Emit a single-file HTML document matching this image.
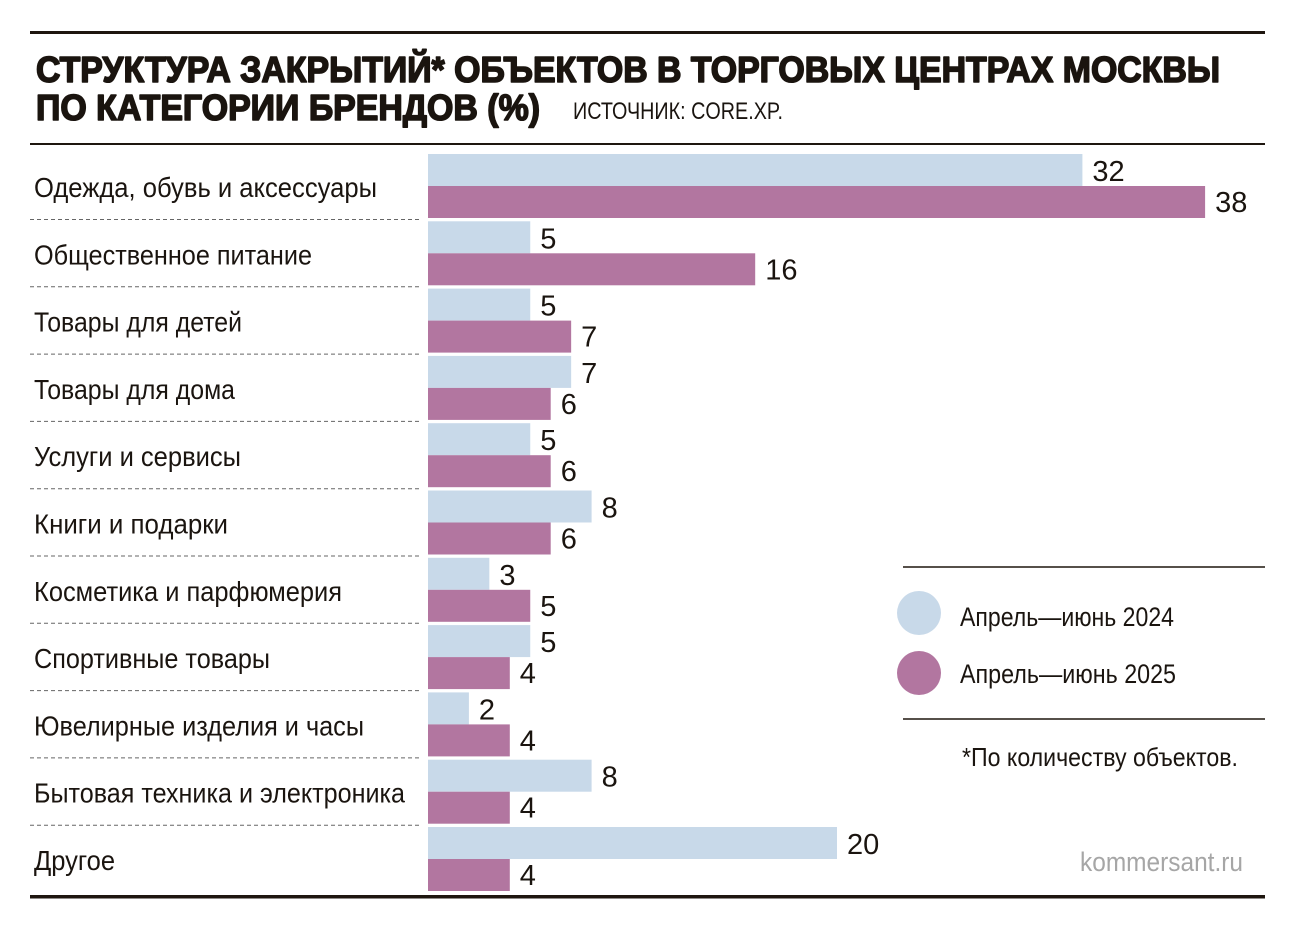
<!DOCTYPE html>
<html><head><meta charset="utf-8"><style>
html,body{margin:0;padding:0;background:#fff;}
svg{display:block;}
text{font-family:"Liberation Sans Narrow","Liberation Sans",sans-serif;fill:#1a140f;}
.t{stroke:#1a140f;stroke-width:1.6px;stroke-linejoin:round;}
</style></head><body>
<svg width="1296" height="930" viewBox="0 0 1296 930" xmlns="http://www.w3.org/2000/svg">
<rect x="30" y="31" width="1235" height="3" fill="#1e160f"/>
<text class="t" x="36" y="82" font-size="36" font-weight="bold" textLength="1184" lengthAdjust="spacingAndGlyphs" style="font-family:'Liberation Sans',sans-serif">СТРУКТУРА ЗАКРЫТИЙ* ОБЪЕКТОВ В ТОРГОВЫХ ЦЕНТРАХ МОСКВЫ</text>
<text class="t" x="36" y="120" font-size="36" font-weight="bold" textLength="504" lengthAdjust="spacingAndGlyphs" style="font-family:'Liberation Sans',sans-serif">ПО КАТЕГОРИИ БРЕНДОВ (%)</text>
<text x="573" y="119" font-size="24" textLength="210" lengthAdjust="spacingAndGlyphs">ИСТОЧНИК: CORE.XP.</text>
<rect x="30" y="143" width="1235" height="2" fill="#1e160f"/>
<rect x="30" y="895" width="1235" height="3.5" fill="#1e160f"/>
<g id="rows"></g>
<line x1="903" y1="567" x2="1265" y2="567" stroke="#1e160f" stroke-width="1.5"/>
<line x1="903" y1="719" x2="1265" y2="719" stroke="#1e160f" stroke-width="1.5"/>
<circle cx="919" cy="613" r="22" fill="#c8d9e9"/>
<circle cx="919" cy="673" r="22" fill="#b276a0"/>
<text x="960" y="626" font-size="27" textLength="214" lengthAdjust="spacingAndGlyphs">Апрель—июнь 2024</text>
<text x="960" y="683" font-size="27" textLength="216" lengthAdjust="spacingAndGlyphs">Апрель—июнь 2025</text>
<text x="962" y="766" font-size="26" textLength="276" lengthAdjust="spacingAndGlyphs">*По количеству объектов.</text>
<text x="1080" y="871" font-size="27" textLength="163" lengthAdjust="spacingAndGlyphs" style="fill:#a6a6a6">kommersant.ru</text>
</svg>
<script>
var d=[["Одежда, обувь и аксессуары",32,38,343],["Общественное питание",5,16,278],["Товары для детей",5,7,208],["Товары для дома",7,6,201],["Услуги и сервисы",5,6,207],["Книги и подарки",8,6,194],["Косметика и парфюмерия",3,5,308],["Спортивные товары",5,4,236],["Ювелирные изделия и часы",2,4,330],["Бытовая техника и электроника",8,4,371],["Другое",20,4,81]];
var s="",k=20.45;
d.forEach(function(r,i){var t=154+67.3*i;
s+='<text x="34" y="'+(t+43)+'" font-size="28" textLength="'+r[3]+'" lengthAdjust="spacingAndGlyphs">'+r[0]+'</text>';
s+='<rect x="428" y="'+t+'" width="'+(r[1]*k)+'" height="32" fill="#c8d9e9"/>';
s+='<rect x="428" y="'+(t+32)+'" width="'+(r[2]*k)+'" height="32" fill="#b276a0"/>';
s+='<text x="'+(428+r[1]*k+10)+'" y="'+(t+27)+'" font-size="29" style="font-family:\'Liberation Sans\',sans-serif">'+r[1]+'</text>';
s+='<text x="'+(428+r[2]*k+10)+'" y="'+(t+58)+'" font-size="29" style="font-family:\'Liberation Sans\',sans-serif">'+r[2]+'</text>';
if(i<10)s+='<line x1="30" y1="'+(t+65.5)+'" x2="422" y2="'+(t+65.5)+'" stroke="#666" stroke-width="1" stroke-dasharray="4,3"/>';
});
document.getElementById("rows").innerHTML=s;
</script>
</body></html>
